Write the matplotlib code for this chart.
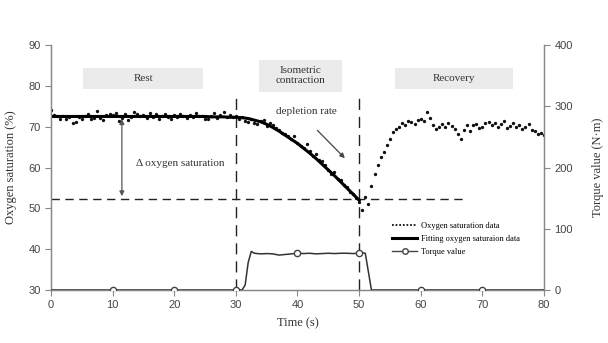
import matplotlib
matplotlib.use("Agg")
import matplotlib.pyplot as plt
import numpy as np

# ---------------- data ----------------
o2_time = [i * 0.5 for i in range(161)]
o2_data = [
    74.2, 72.8, 72.5, 72.0, 72.6, 71.8, 72.3, 71.0, 71.1, 72.4,
    72.0, 72.7, 73.2, 71.9, 72.1, 73.8, 72.2, 71.6, 72.8, 73.0,
    72.9, 73.4, 71.5, 72.2, 73.2, 71.7, 72.4, 73.5, 73.0, 72.5,
    72.8, 72.2, 73.3, 72.4, 73.0, 72.0, 72.6, 73.1, 72.4, 71.9,
    72.8, 72.3, 73.2, 72.6, 72.1, 72.9, 72.3, 73.4, 72.5, 72.7,
    72.0, 71.8, 72.5, 73.3, 72.1, 72.9, 73.7, 72.4, 72.8, 72.3,
    72.6, 71.8, 72.3, 71.5, 71.2, 71.9, 71.0, 70.6, 71.3, 71.6,
    70.2, 71.0, 70.4, 69.6, 69.3, 68.4, 68.2, 67.6, 67.0, 67.8,
    66.0, 65.3, 64.8, 65.7, 64.0, 62.9, 63.2, 61.8, 61.5, 60.6,
    59.4, 58.5, 58.8, 57.2, 56.9, 55.6, 55.2, 54.0, 53.6, 52.5,
    51.5, 49.5, 52.8, 51.0,
    55.5, 58.5, 60.5, 62.5, 63.8, 65.5, 67.0, 68.8, 69.5, 70.0,
    70.8, 70.3, 71.5, 71.2, 70.6, 71.6, 72.0, 71.4, 73.5, 72.2,
    70.5, 69.4, 70.0, 70.6, 69.8, 70.9, 70.2, 69.5, 68.3, 67.0,
    69.2, 70.5, 68.9, 70.3, 70.6, 69.7, 70.0, 70.8, 71.2, 70.4,
    71.0, 70.0, 70.7, 71.3, 69.6, 70.2, 71.0, 69.9, 70.5, 69.4,
    69.8, 70.6, 69.2, 69.0, 68.3, 68.5, 68.0,
]

fit_time = list(range(0, 51))
fit_data = [
    72.5, 72.5, 72.5, 72.5, 72.5, 72.5, 72.5, 72.5, 72.5, 72.5,
    72.5, 72.5, 72.5, 72.5, 72.5, 72.5, 72.5, 72.5, 72.5, 72.5,
    72.5, 72.5, 72.5, 72.5, 72.5, 72.5, 72.4, 72.4, 72.4, 72.3,
    72.3, 72.2, 72.0, 71.6, 71.2, 70.6, 69.8, 68.9, 67.9, 66.9,
    65.9, 64.7, 63.5, 62.2, 60.8, 59.4, 58.0, 56.5, 55.0, 53.5,
    52.0,
]

torque_time = [0, 10, 20, 30, 31.0, 31.5, 32.0, 32.5, 33, 34, 35, 36, 37, 38,
               39, 40, 41, 42, 43, 44, 45, 46, 47, 48, 49, 50, 50.5, 51.0,
               51.5, 52.0, 60, 70, 80]
torque = [0, 0, 0, 0, 0, 8, 45, 63, 60, 59, 59.5, 59, 57, 58, 59, 60, 59.5,
          60, 59, 59.5, 60, 59.5, 60, 60, 59.5, 60, 61, 60, 30, 0, 0, 0, 0]
torque_marker_times = [10, 20, 30, 40, 50, 60, 70]

baseline_level = 52.3
rest_level = 72.5

phase_labels = ["Rest", "Isometric\ncontraction", "Recovery"]
phase_spans = [(5.2, 24.7), (33.8, 47.2), (55.8, 75.0)]

# ---------------- figure ----------------
serif = "Liberation Serif"
sans = "Liberation Sans"
tick_col = "#444444"
spine_col = "#888888"

fig = plt.figure(figsize=(6.08, 3.43), dpi=100)
ax = fig.add_axes([0.0839, 0.1545, 0.8108, 0.7143])
ax2 = ax.twinx()

ax.set_xlim(0, 80)
ax.set_ylim(30, 90)
ax2.set_ylim(0, 400)

# phase boxes
for lab, (x0, x1) in zip(phase_labels, phase_spans):
    if "\n" in lab:
        y0, y1 = 78.6, 86.3
    else:
        y0, y1 = 79.3, 84.4
    ax.add_patch(plt.Rectangle((x0, y0), x1 - x0, y1 - y0, facecolor="#ebebeb",
                               edgecolor="none", zorder=0))
    ax.text((x0 + x1) / 2, (y0 + y1) / 2, lab, ha="center", va="center",
            fontsize=8, family=serif, color="#333333", linespacing=1.15)

# dashed reference lines
ax.plot([0, 67.5], [baseline_level, baseline_level], color="#222222", lw=1.0,
        dashes=(6, 4), zorder=2)
for xv in (30, 50):
    ax.plot([xv, xv], [30, 78], color="#222222", lw=1.0, dashes=(8, 5), zorder=2)

# data
ax.plot(o2_time, o2_data, linestyle="none", marker="o", markersize=1.4,
        color="#111111", zorder=3, label="Oxygen saturation data")
ax.plot(fit_time, fit_data, color="black", lw=2.2, zorder=4,
        label="Fitting oxygen saturaion data")

marker_idx = [torque_time.index(t) for t in torque_marker_times]
ax2.plot(torque_time, torque, color="#333333", lw=1.1, marker="o",
         markersize=4.5, markerfacecolor="white", markeredgecolor="#444444",
         markevery=marker_idx, zorder=3, label="Torque value")

# delta arrow
ax.annotate("", xy=(11.5, baseline_level), xytext=(11.5, rest_level),
            arrowprops=dict(arrowstyle="<|-|>", color="#555555", lw=0.9,
                            mutation_scale=7))
ax.text(21.0, 61.1, "\u0394 oxygen saturation", ha="center", va="center",
        fontsize=8, family=serif, color="#333333")

# depletion rate
ax.text(41.4, 73.7, "depletion rate", ha="center", va="center",
        fontsize=8, family=serif, color="#333333")
ax.annotate("", xy=(48.0, 61.8), xytext=(42.9, 69.6),
            arrowprops=dict(arrowstyle="-|>", color="#444444", lw=0.9,
                            mutation_scale=7))

# legend
from matplotlib.lines import Line2D
handles = [
    Line2D([], [], color="#111111", linestyle=(0, (1, 1)), lw=1.3),
    Line2D([], [], color="black", lw=2.2),
    Line2D([], [], color="#444444", lw=1.0, marker="o", markersize=4,
           markerfacecolor="white", markeredgecolor="#444444"),
]
labels = ["Oxygen saturation data", "Fitting oxygen saturaion data", "Torque value"]
ax.legend(handles, labels, loc="lower left", bbox_to_anchor=(0.68, 0.115),
          frameon=False, prop={"family": serif, "size": 6}, handlelength=3.0,
          handletextpad=0.5, labelspacing=0.6, borderpad=0.2)

# axes styling
ax.set_xticks(range(0, 81, 10))
ax.set_yticks(range(30, 91, 10))
ax2.set_yticks(range(0, 401, 100))
for a in (ax, ax2):
    a.spines["top"].set_visible(False)
    for s in ("left", "right", "bottom"):
        a.spines[s].set_color(spine_col)
        a.spines[s].set_linewidth(0.9)
    a.tick_params(colors=spine_col, labelcolor=tick_col, labelsize=8, length=4,
                  width=0.8, direction="out")
    for lbl in a.get_xticklabels() + a.get_yticklabels():
        lbl.set_family(sans)

ax.set_xlabel("Time (s)", family=serif, fontsize=9, color="#333333", labelpad=5)
ax.set_ylabel("Oxygen saturation (%)", family=serif, fontsize=9, color="#333333",
              labelpad=8)
ax2.set_ylabel("Torque value (N\u00b7m)", family=serif, fontsize=9, color="#333333",
               labelpad=14)

fig.savefig("out.png", dpi=100)
